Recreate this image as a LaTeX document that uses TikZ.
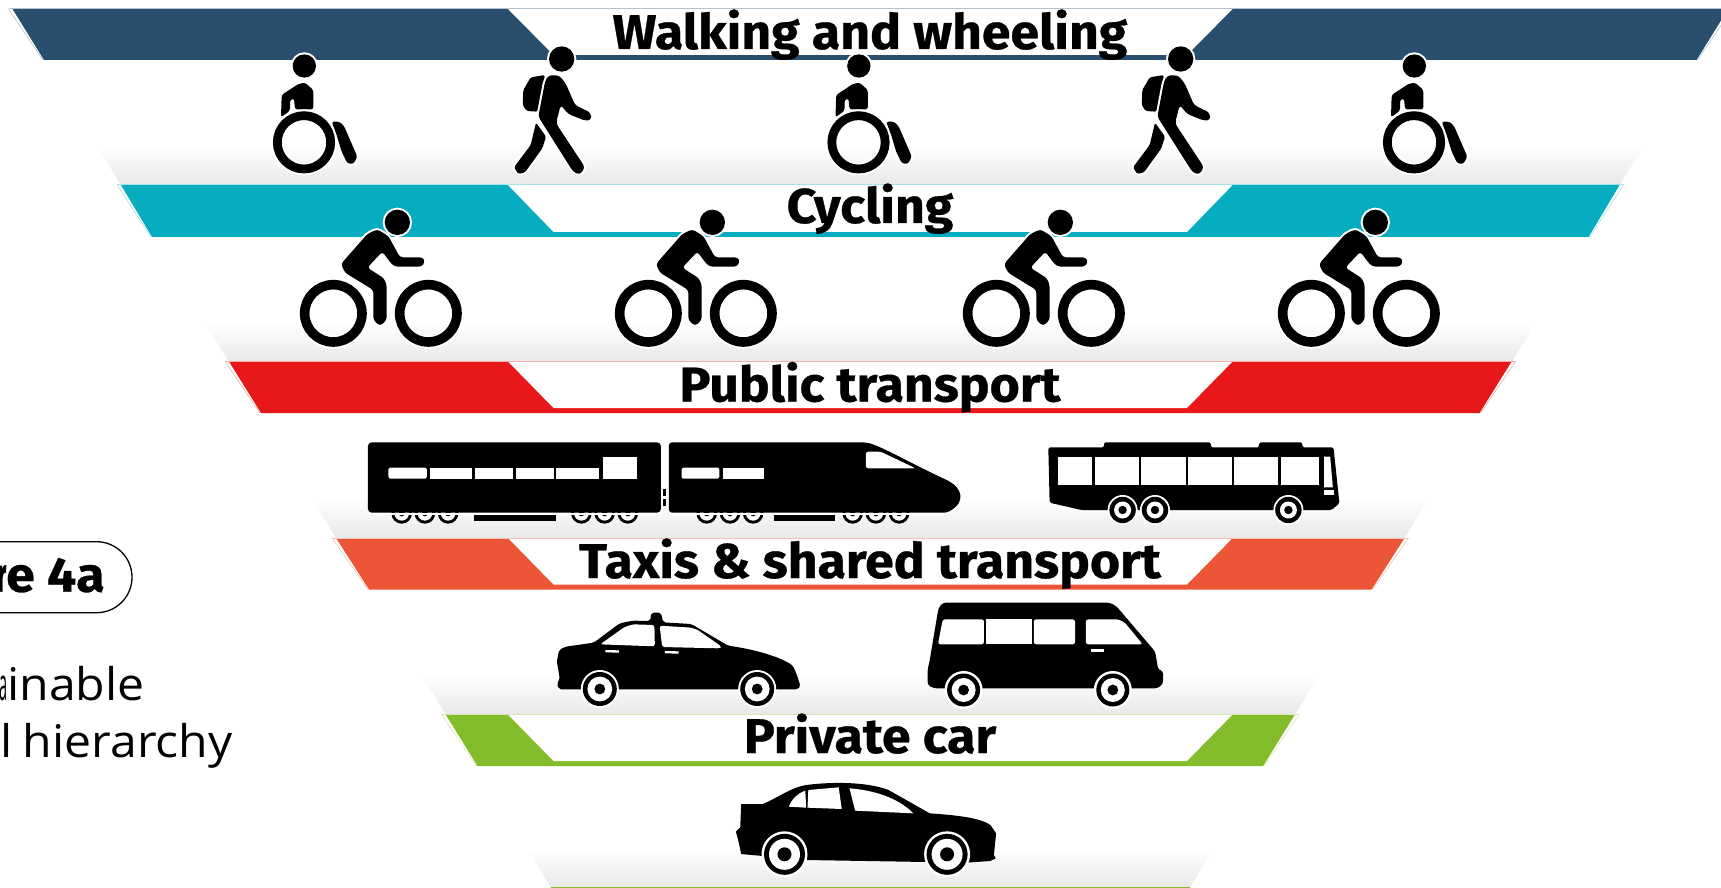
\documentclass[tikz,border=0pt]{standalone}
\usepackage{fontspec}
\setmainfont{Fira Sans}
\newfontfamily\bandfont{Fira Sans}[BoldFeatures={FakeStretch=1.06,FakeBold=0.6}]
\newfontfamily\sidefont{Open Sans}[FakeStretch=1.07]
\definecolor{bnavy}{HTML}{2A4F6E}
\definecolor{bteal}{HTML}{06ACC0}
\definecolor{bred}{HTML}{E81719}
\definecolor{borange}{HTML}{EC5636}
\definecolor{bgreen}{HTML}{84BC2C}
\definecolor{sectgray}{HTML}{E8E8E8}
\pgfdeclareverticalshading{sect}{100bp}{color(0bp)=(sectgray); color(25bp)=(sectgray); color(41bp)=(white); color(100bp)=(white)}
\tikzset{
  icon/.style={fill=black,draw=none,line join=round,preaction={draw=white,line width=2pt,fill=none}},
  soft/.style={rounded corners=1.2pt},
  win/.style={fill=white,draw=none},
  ring/.style={draw=black,line width=4.4pt,preaction={draw=white,line width=6.2pt}},
  bikering/.style={draw=black,line width=4.8pt,preaction={draw=white,line width=6.6pt}},
  bandlabel/.style={font=\bandfont\bfseries\fontsize{24.4}{30}\selectfont,anchor=base,inner sep=0pt,text=black},
  sidelabel/.style={font=\sidefont\fontsize{22.5}{28}\selectfont,anchor=base east,inner sep=0pt},
  zoomA/.style={x=0.16667pt,y=-0.16667pt},
  zoomT/.style={x=0.3316pt,y=-0.16667pt},
  zoomC/.style={x=0.2168pt,y=-0.16667pt}
}
% band: top y, bottom y, top-left x, bottom-left x, colour
\newcommand{\bandshape}[5]{%
  \fill[#5] (#3,#1) -- (1740.6-#3,#1) -- (1740.6-#4,#2) -- (#4,#2) -- cycle;
  \fill[white] (508,#1) -- (1232.6,#1) -- (1187,#2-5) -- (553.5,#2-5) -- cycle;
  \draw[#5!35,line width=0.5pt] (#3-4,#1) -- (1744.6-#3,#1);
  \draw[#5!35,line width=0.3pt] (#3-4,#1) -- (#4-1,#2);
  \draw[#5!35,line width=0.3pt] (1744.6-#3,#1) -- (1741.6-#4,#2);
}
% section: top y, bottom y, top-left x, bottom-left x
\newcommand{\sectshape}[4]{%
  \shade[shading=sect] (#3,#1) -- (1740.6-#3,#1) -- (1740.6-#4,#2) -- (#4,#2) -- cycle;
}
\newcommand{\chairicon}[2]{%
\begin{scope}[shift={(#1,#2)},zoomA]
  \path[icon,soft] (123,232) -- (125,165) -- (175,132) -- (195,128) -- (220,150) -- (220,208) -- (165,208) -- (162,175) -- (150,180) -- (150,212) -- cycle;
  \path[icon,soft] (275,245) -- (298,245) -- (312,258) -- (352,350) -- (340,372) -- (322,370) -- (305,335) -- (290,285) -- cycle;
  \draw[ring] (192,307) circle[radius=80];
  \path[icon] (193,78) circle[radius=35];
\end{scope}}
\newcommand{\walkicon}[2]{%
\begin{scope}[shift={(#1,#2)},zoomA]
  \path[icon,rounded corners=0.8pt] (915,105) -- (893,215) -- (860,213) -- (848,195) -- (850,150) -- (872,112) -- cycle;
  \path[icon,rounded corners=0.8pt] (888,248) -- (918,290) -- (907,325) -- (855,397) -- (835,402) -- (822,382) -- (872,315) -- cycle;
  \path[icon,rounded corners=1.6pt] (915,125) -- (925,106) -- (957,106) -- (977,130) -- (1005,195) -- (1052,218) -- (1054,240) -- (1035,242) -- (985,222) -- (962,195) -- (948,250) -- (1035,382) -- (1020,404) -- (1000,396) -- (895,230) -- cycle;
  \path[icon] (965,57) circle[radius=38];
\end{scope}}
\newcommand{\cycleicon}[1]{%
\begin{scope}[shift={(#1,200)},zoomA]
  \draw[bikering] (130,340) circle[radius=86];
  \draw[bikering] (415,340) circle[radius=86];
  \path[icon,rounded corners=1.5pt] (232,102) -- (262,88) -- (295,108) -- (330,172) -- (398,172) -- (405,186) -- (395,200) -- (315,200) -- (303,190) -- (277,155) -- (232,203) -- (282,235) -- (290,255) -- (290,360) -- (270,378) -- (250,360) -- (250,270) -- (165,218) -- (153,192) -- cycle;
  \path[icon] (322,67) circle[radius=38];
\end{scope}}
% wheel: x, y, halo, outer, white, hub
\newcommand{\wheelicon}[6]{%
  \fill[white] (#1,#2) circle[radius=#3];
  \fill[black] (#1,#2) circle[radius=#4];
  \fill[white] (#1,#2) circle[radius=#5];
  \fill[black] (#1,#2) circle[radius=#6];
}
\begin{document}
\begin{tikzpicture}[x=0.5pt,y=-0.5pt]
\useasboundingbox (0,0) rectangle (1721,888);
\clip (0,0) rectangle (1721,888);
\fill[white] (0,0) rectangle (1721,888);
% sections
\sectshape{60}{185}{44}{121}
\sectshape{237}{362}{152}{229}
\sectshape{413}{538}{261}{336}
\sectshape{589}{715}{369}{446}
\sectshape{766}{888}{477.5}{551}
% bands
\bandshape{9}{60}{12.5}{44}{bnavy}
\bandshape{185}{237}{121}{152}{bteal}
\bandshape{361.5}{413}{229}{261}{bred}
\bandshape{538}{589.5}{336}{369}{borange}
\bandshape{714.5}{766}{445.6}{477.5}{bgreen}
\fill[bgreen] (551,887) rectangle (1190,889);
% labels
\node[bandlabel] (lwalk) at (870,49) {Walking and wheeling};
\node[bandlabel] (lcycle) at (870,223) {Cycling};
\node[bandlabel] (lpublic) at (870,401.5) {Public transport};
\node[bandlabel] (ltaxi) at (870,578) {Taxis \& shared transport};
\node[bandlabel] (lcar) at (870,753) {Private car};
% left caption
\draw[black,line width=0.65pt,rounded corners=17.7pt] (-60,541.7) -- (132,541.7) -- (132,612.7) -- (-60,612.7);
\node[bandlabel,anchor=base east] (fig) at (105,591.7) {\scalebox{0.4}[1]{r}e 4a};
\node[sidelabel] (sust) at (145,700) {\scalebox{0.3}[1]{a}inable};
\node[sidelabel] (hier) at (233,757) {l\kern-1pt\ hierarchy};
% walking row
\chairicon{240}{40}
\walkicon{240}{40}
\chairicon{794.5}{40}
\walkicon{859}{40}
\chairicon{1350}{40}
% cycling row
\cycleicon{290}
\cycleicon{605}
\cycleicon{953}
\cycleicon{1268}
% train
\begin{scope}[shift={(340,350)},zoomT]
  \foreach \wx in {93,128,163,364,399,434,553,588,623,773,808,843}{
    \fill[black] (\wx,490) circle[x radius=15.5,y radius=31];
    \fill[white] (\wx,490) circle[x radius=11,y radius=22];
    \fill[black] (\wx,490) circle[x radius=4.5,y radius=9];
  }
  \fill[black] (202,495) rectangle (326,513);
  \fill[black] (654,495) rectangle (746,513);
  \fill[white] (42,489) rectangle (484,495);
  \fill[white] (496,489) rectangle (915,495);
  \fill[black,rounded corners=2pt] (42,277) rectangle (484,488);
  \fill[black] (487,418) rectangle (492,438);
  \fill[black] (487,448) rectangle (492,468);
  \fill[black,rounded corners=1.5pt] (496,277) -- (790,277) .. controls (812,283) and (860,340) .. (915,390) .. controls (937,415) and (945,455) .. (915,488) -- (496,488) -- cycle;
  \foreach \xa/\xb in {135/199,204/261,265/323,326/390,577/640}{
    \fill[win] (\xa,353) rectangle (\xb,386);
  }
  \fill[win,rounded corners=0.8pt] (73,353) -- (131,353) -- (131,386) -- (73,386) -- cycle;
  \fill[win,rounded corners=0.8pt] (515,353) -- (572,353) -- (572,386) -- (515,386) -- cycle;
  \fill[win] (397,320) rectangle (448,387);
  \fill[win,soft] (793,305) -- (815,305) -- (868,355) -- (793,355) -- cycle;
\end{scope}
% bus
\begin{scope}[shift={(340,350)},zoomT]
  \fill[black,rounded corners=0.8pt] (1068,292) -- (1152,292) -- (1152,277) -- (1313,277) -- (1313,292) -- (1386,292) -- (1386,277) -- (1451,277) -- (1451,292) -- (1498,292) -- (1507,460) -- (1495,480) -- (1118,480) -- (1070,458) -- cycle;
  \foreach \xa/\xb in {1083/1134,1138/1204,1208/1275,1279/1345,1348/1415,1419/1476}{
    \fill[win] (\xa,320) rectangle (\xb,405);
  }
  \fill[win] (1484,320) -- (1493,320) -- (1497,412) -- (1484,412) -- cycle;
  \fill[win] (1484,420) rectangle (1499,436);
\end{scope}
\wheelicon{1122.6}{510}{15}{13.2}{8.5}{4.2}
\wheelicon{1155}{510}{15}{13.2}{8.5}{4.2}
\wheelicon{1288.4}{510}{15}{13.2}{8.5}{4.2}
% taxi
\begin{scope}[shift={(520,580)},zoomC]
  \fill[black,rounded corners=1pt] (90,210) -- (105,200) -- (170,188) -- (230,130) -- (260,122) -- (300,123) -- (303,98) -- (325,98) -- (330,127) -- (395,132) -- (480,197) .. controls (540,208) and (600,230) .. (630,258) -- (640,290) -- (647,320) -- (640,328) -- (90,328) -- (85,310) -- (92,298) -- (85,245) -- cycle;
  \fill[win,soft] (185,193) -- (240,142) -- (260,133) -- (310,135) -- (311,199) -- cycle;
  \fill[win,soft] (322,137) -- (395,143) -- (410,150) -- (465,200) -- (460,205) -- (328,201) -- cycle;
  \fill[win] (197,210) -- (228,211) -- (228,218) -- (197,217) -- cycle;
  \fill[win] (334,213) -- (366,214) -- (366,221) -- (334,220) -- cycle;
\end{scope}
\wheelicon{599.8}{689}{19}{17}{12.4}{5.4}
\wheelicon{757.2}{689}{19}{17}{12.4}{5.4}
% van
\begin{scope}[shift={(520,580)},zoomC]
  \fill[black,rounded corners=1.5pt] (975,68) -- (1360,68) -- (1375,78) -- (1465,215) -- (1472,270) -- (1483,272) -- (1483,312) -- (1470,325) -- (955,325) -- (940,315) -- (940,270) -- (945,240) -- (965,85) -- cycle;
  \fill[win,soft] (975,118) -- (1070,118) -- (1070,193) -- (964,193) -- cycle;
  \fill[win] (1075,118) rectangle (1180,193);
  \fill[win,soft] (1185,118) -- (1280,118) -- (1280,193) -- (1185,193) -- cycle;
  \fill[win,soft] (1305,118) -- (1380,118) -- (1395,128) -- (1436,193) -- (1305,193) -- cycle;
  \fill[win] (1316,208) rectangle (1347,216);
\end{scope}
\wheelicon{963.6}{690}{19}{16.5}{12}{5.4}
\wheelicon{1112.8}{690}{19}{16.5}{12}{5.4}
% car
\begin{scope}[shift={(520,580)},zoomC]
  \fill[black] (510,672) -- (560,672) .. controls (600,650) and (620,625) .. (660,615) .. controls (720,605) and (800,605) .. (850,630) -- (945,700) .. controls (1000,705) and (1060,712) .. (1085,735) -- (1098,760) -- (1093,825) -- (1097,835) -- (1085,843) -- (1030,848) -- (660,840) -- (560,828) -- (510,822) -- (505,790) -- (498,755) -- (508,742) -- cycle;
  \fill[win] (620,680) .. controls (625,660) and (640,640) .. (658,632) -- (660,683) -- cycle;
  \fill[win] (665,630) -- (735,622) -- (742,687) -- (663,683) -- cycle;
  \fill[win] (760,625) .. controls (810,630) and (870,650) .. (907,700) -- (773,692) -- cycle;
\end{scope}
\wheelicon{784.5}{854.3}{23}{20.5}{15.5}{7}
\wheelicon{947.1}{854.3}{23}{20.5}{15.5}{7}
\end{tikzpicture}
\end{document}
